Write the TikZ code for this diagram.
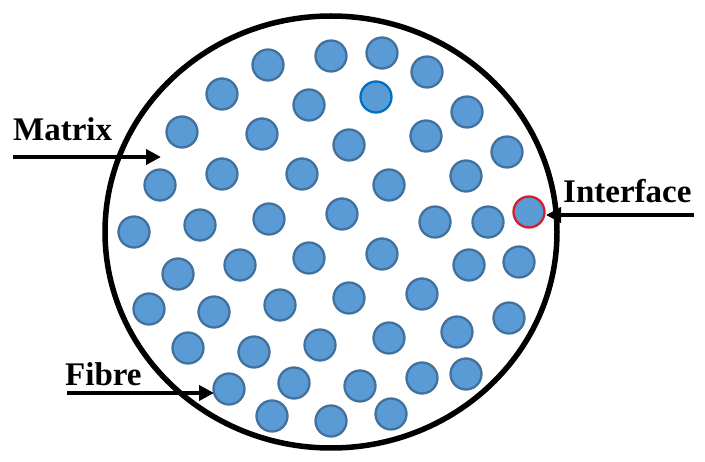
\documentclass[tikz,border=0pt]{standalone}
\usepackage{fontspec}
\setmainfont{Liberation Serif}
\usetikzlibrary{arrows.meta}
\definecolor{fibfill}{HTML}{5B9BD5}
\definecolor{fibedge}{HTML}{41719C}
\definecolor{fibblue}{HTML}{0070C0}
\definecolor{fibred}{HTML}{D0202A}
\tikzset{
  fib/.style={circle,fill=fibfill,draw=fibedge,line width=2.3pt,minimum size=31pt,inner sep=0pt},
  lbl/.style={anchor=base west,inner sep=0pt,font=\fontsize{33}{33}\selectfont\bfseries},
  pointer/.style={line width=4.5pt,-{Triangle[length=15pt,width=15pt]}},
}
\begin{document}
\begin{tikzpicture}[x=1pt,y=-1pt]
\useasboundingbox (0,0) rectangle (705,462);
\draw[line width=5.5pt] (331,232) ellipse [x radius=226, y radius=216];
\foreach \n/\x/\y in {
 1/268/65, 2/331/56, 3/382/53, 4/427/72,
 5/222/94, 6/309/105, 8/467/112,
 9/182/132, 10/262/134, 11/349/145, 12/426/136, 13/507/152,
 14/160/185, 15/222/174, 16/302/174, 17/389/185, 18/466/176,
 19/134/232, 20/200/225, 21/269/219, 22/342/214, 23/435/222, 24/488/222,
 26/178/274, 27/240/265, 28/309/258, 29/382/254, 30/469/265, 31/519/262,
 32/149/309, 33/214/312, 34/280/305, 35/349/298, 36/422/294, 37/509/318,
 38/188/348, 39/254/352, 40/320/345, 41/389/338, 42/457/332,
 43/229/389, 44/294/383, 45/360/386, 46/422/378, 47/466/374,
 48/272/416, 49/331/421, 50/391/414}
  \node[fib] (f\n) at (\x,\y) {};
\node[fib,draw=fibblue] (f7) at (376,97) {};
\node[fib,draw=fibred] (f25) at (529,212) {};
\node[lbl] (matrix) at (13,141) {Matrix};
\node[lbl] (fibre) at (65,386) {Fibre};
\node[lbl] (interface) at (563,203) {Interface};
\coordinate (ms) at (13,157);
\coordinate (me) at (161,157);
\coordinate (fs) at (67,393);
\coordinate (fe) at (214,393);
\coordinate (is) at (694,215);
\coordinate (ie) at (546,215);
\draw[pointer] (ms) -- (me);
\draw[pointer] (fs) -- (fe);
\draw[pointer] (is) -- (ie);
\end{tikzpicture}
\end{document}
